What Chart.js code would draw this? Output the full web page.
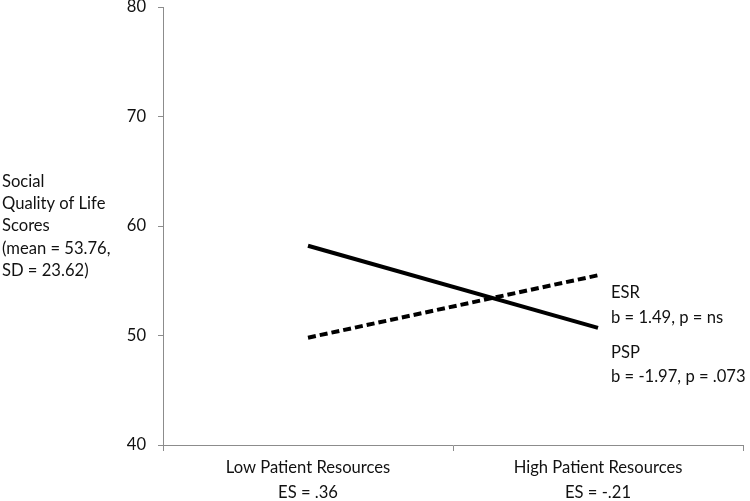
<!DOCTYPE html>
<html>
<head>
<meta charset="utf-8">
<script src="https://cdn.jsdelivr.net/npm/chart.js@4/dist/chart.umd.min.js"></script>
<style>
  html, body { margin: 0; padding: 0; background: #fff; }
  #wrap { width: 750px; height: 501px; position: relative; }
</style>
</head>
<body>
<div id="wrap"><canvas id="chart" width="750" height="501"></canvas></div>
<script>
const categories = [['Low Patient Resources', 'ES = .36'], ['High Patient Resources', 'ES = -.21']]
const esrValues = [49.8, 55.5]   // dashed
const pspValues = [58.2, 50.7]   // solid
const yTicks = [40, 50, 60, 70, 80]
const yTitle = ['Social', 'Quality of Life', 'Scores', '(mean = 53.76,', 'SD = 23.62)']
const esrNote = ['ESR', 'b = 1.49, p = ns']
const pspNote = ['PSP', 'b = -1.97, p = .073']

const FONT = 'Lato, "Open Sans", sans-serif'
const FSIZE = 16.6
const TXT = '#111'
const AXIS = '#8c8c8c'

// texts that are not part of the axes
const notes = {
    id: 'notes',
    afterDraw(chart) {
        const ctx = chart.ctx
        const y = chart.scales.y
        ctx.save()
        ctx.font = FSIZE + 'px ' + FONT
        ctx.fillStyle = TXT
        ctx.textBaseline = 'middle'
        ctx.textAlign = 'left'
        // y axis title, left of tick labels
        const mid = y.getPixelForValue(60)
        yTitle.forEach((t, i) => ctx.fillText(t, 2, mid + (i - 2) * 22.3))

        // notes next to the line ends
        const pt = chart.getDatasetMeta(1).data[1]
        const x0 = pt.x + 13
        esrNote.forEach((t, i) => ctx.fillText(t, x0, pt.y - 35 + i * 25))
        pspNote.forEach((t, i) => ctx.fillText(t, x0, pt.y + 25 + i * 24))
        ctx.restore()
    }
}

new Chart('chart', {
    type: 'line',
    data: {
        labels: categories,
        datasets: [
            {
                label: 'ESR',
                data: esrValues,
                borderColor: '#000',
                borderWidth: 4,
                borderDash: [8, 4],
                pointRadius: 0,
                tension: 0,
                fill: false
            },
            {
                label: 'PSP',
                data: pspValues,
                borderColor: '#000',
                borderWidth: 4,
                pointRadius: 0,
                tension: 0,
                fill: false
            }
        ]
    },
    options: {
        responsive: false,
        animation: false,
        layout: { padding: { top: 7, right: 7, left: 0, bottom: 0 } },
        plugins: {
            legend: { display: false },
            tooltip: { enabled: false }
        },
        scales: {
            x: {
                type: 'category',
                offset: true,
                grid: { offset: true, drawOnChartArea: false, drawTicks: true, tickLength: 6, tickColor: AXIS },
                border: { color: AXIS, width: 1 },
                ticks: {
                    color: TXT,
                    font: { family: FONT, size: FSIZE, lineHeight: 1.5 },
                    padding: 4,
                    maxRotation: 0
                },
                afterFit: s => { s.height = 56; s.paddingLeft = 0; s.paddingRight = 0 }
            },
            y: {
                min: 40,
                max: 80,
                afterBuildTicks: s => { s.ticks = yTicks.map(v => ({ value: v })) },
                grid: { drawOnChartArea: false, drawTicks: true, tickLength: 5, tickColor: AXIS },
                border: { color: AXIS, width: 1 },
                ticks: {
                    color: TXT,
                    font: { family: FONT, size: FSIZE },
                    padding: 12
                },
                afterFit: s => { s.width = 163; s.paddingTop = 0; s.paddingBottom = 0 }
            }
        }
    },
    plugins: [notes]
})
</script>
</body>
</html>
